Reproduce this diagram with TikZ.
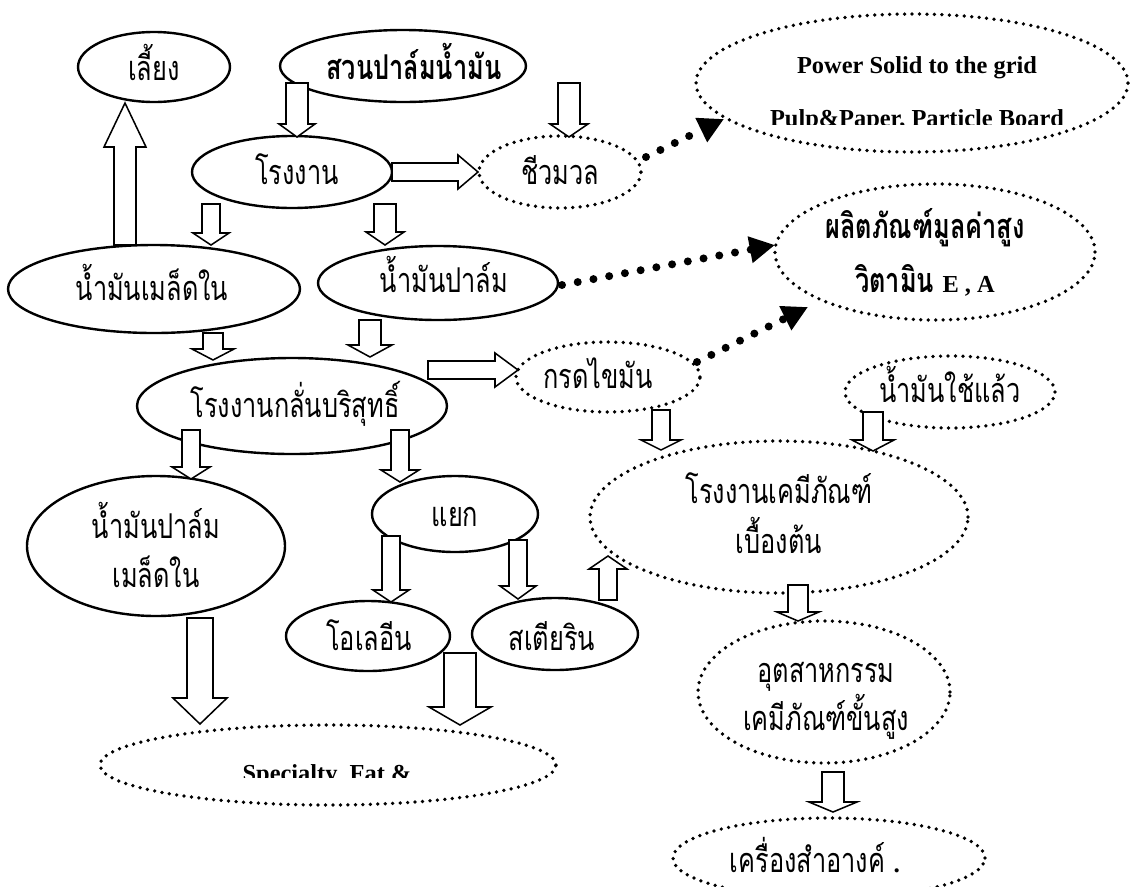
\documentclass[tikz,border=0pt]{standalone}
\usepackage{graphicx}
\usepackage{fontspec}
\setmainfont{Liberation Serif}
\newfontfamily\thai[Script=Thai]{Loma}
\usetikzlibrary{shapes.geometric,arrows.meta}

\newcommand\tht[1]{\scalebox{1}[1.35]{#1}}
\tikzset{
  x=0.75pt, y=-0.75pt,
  solidell/.style={draw, ellipse, line width=1.8pt, fill=white, inner sep=0pt},
  dotell/.style={draw, ellipse, line width=2.8pt, dash pattern=on 0pt off 5.6pt, line cap=round, fill=white, inner sep=0pt},
  barrow/.style={draw, fill=white, line width=1.15pt, line join=miter},
  bigdots/.style={line width=6pt, dash pattern=on 0pt off 12pt, line cap=round, -{Triangle[length=19pt,width=19pt]}},
  th/.style={font=\thai\fontsize{19}{23}\selectfont, inner sep=0pt, anchor=base},
  thb/.style={font=\thai\bfseries\fontsize{19}{23}\selectfont, inner sep=0pt, anchor=base},
  en/.style={font=\bfseries\fontsize{18.3}{22}\selectfont, inner sep=0pt, anchor=base},
}
% ellipse node: name, x, y, rx, ry, style
\newcommand\myell[6]{\node[#6, minimum width={#4*1.5pt}, minimum height={#5*1.5pt}] (#1) at (#2,#3) {};}
% vertical block arrow: cx, ystart, ybase, ytip, half shaft, half head
\newcommand\barrowv[6]{\draw[barrow] ({#1-#5},#2) -- ({#1+#5},#2) -- ({#1+#5},#3) -- ({#1+#6},#3) -- (#1,#4) -- ({#1-#6},#3) -- ({#1-#5},#3) -- cycle;}
% horizontal block arrow: cy, xstart, xbase, xtip, half shaft, half head
\newcommand\barrowh[6]{\draw[barrow] (#2,{#1-#5}) -- (#2,{#1+#5}) -- (#3,{#1+#5}) -- (#3,{#1+#6}) -- (#4,#1) -- (#3,{#1-#6}) -- (#3,{#1-#5}) -- cycle;}

\begin{document}
\begin{tikzpicture}
\fill[white] (0,0) rectangle (1131,886);
\useasboundingbox (0,0) rectangle (1131,886);

% ellipses
\myell{liang}{154}{67}{76}{35}{solidell}
\myell{suan}{403}{66}{123}{36}{solidell}
\myell{rong}{292}{172}{100}{36}{solidell}
\myell{bio}{560}{172}{81}{36}{dotell}
\myell{power}{912}{83}{216}{69}{dotell}
\myell{kernel}{154}{289}{146}{44}{solidell}
\myell{palm}{438}{283}{120}{37}{solidell}
\myell{value}{935}{252}{160}{68}{dotell}
\myell{refine}{292}{406}{155}{48}{solidell}
\myell{acid}{608}{377}{92}{35}{dotell}
\myell{used}{950}{392}{105}{36}{dotell}
\myell{kpalm}{156}{546}{129}{70}{solidell}
\myell{yaek}{455}{514}{83}{38}{solidell}
\myell{chem}{779}{517}{189}{76}{dotell}
\myell{olein}{368}{636}{82}{35}{solidell}
\myell{stear}{555}{634}{83}{36}{solidell}
\myell{adv}{824}{692}{126}{71}{dotell}
\myell{spec}{328}{765}{228}{40}{dotell}
\myell{cosm}{829}{858}{156}{40}{dotell}

% texts
\node[th] (t-liang) at (154,80) {\tht{เลี้ยง}};
\node[thb] (t-suan) at (414,79) {\tht{สวนปาล์มน้ำมัน}};
\node[th] (t-rong) at (297,184) {\tht{โรงงาน}};
\node[th] (t-bio) at (560,184) {\tht{ชีวมวล}};
\node[en] (t-power1) at (917,73) {Power Solid to the grid};
\begin{scope}
\clip (700,95) rectangle (1130,124);
\node[en] (t-power2) at (917,126) {Pulp\&Paper, Particle Board};
\end{scope}
\node[th] (t-kernel) at (152,300) {\tht{น้ำมันเมล็ดใน}};
\node[th] (t-palm) at (444,292) {\tht{น้ำมันปาล์ม}};
\node[thb] (t-value1) at (925,238) {\tht{ผลิตภัณฑ์มูลค่าสูง}};
\node[thb] (t-value2) at (925,292) {\tht{วิตามิน} {\rmfamily\fontsize{18.3}{22}\selectfont E , A}};
\node[th] (t-refine) at (295,417) {\tht{โรงงานกลั่นบริสุทธิ์}};
\node[th] (t-acid) at (598,388) {\tht{กรดไขมัน}};
\node[th] (t-used) at (950,402) {\tht{น้ำมันใช้แล้ว}};
\node[th] (t-kpalm1) at (156,538) {\tht{น้ำมันปาล์ม}};
\node[th] (t-kpalm2) at (156,587) {\tht{เมล็ดใน}};
\node[th] (t-yaek) at (455,526) {\tht{แยก}};
\node[th] (t-chem1) at (779,503) {\tht{โรงงานเคมีภัณฑ์}};
\node[th] (t-chem2) at (779,553) {\tht{เบื้องต้น}};
\node[th] (t-olein) at (369,650) {\tht{โอเลอีน}};
\node[th] (t-stear) at (552,650) {\tht{สเตียริน}};
\node[th] (t-adv1) at (826,682) {\tht{อุตสาหกรรม}};
\node[th] (t-adv2) at (826,730) {\tht{เคมีภัณฑ์ขั้นสูง}};
\begin{scope}
\clip (200,740) rectangle (460,777);
\node[en] (t-spec) at (327,781) {Specialty\ \ Fat \&};
\end{scope}
\node[th] (t-cosm) at (815,872) {\tht{เครื่องสำอางค์} {\rmfamily\bfseries .}};

% block arrows
\barrowv{297}{83}{124}{137}{11}{18}
\barrowv{569}{83}{124}{137}{11}{19}
\barrowh{172}{392}{458}{478}{9}{17}
\barrowv{125}{245}{147}{103}{11}{21}
\barrowv{211}{204}{233}{245}{9}{18}
\barrowv{385}{204}{232}{245}{11}{19}
\barrowv{213}{333}{349}{360}{10}{21}
\barrowv{370}{320}{345}{357}{11}{22}
\barrowh{370}{428}{495}{518}{9}{17}
\barrowv{191}{430}{467}{479}{9}{19}
\barrowv{400}{430}{470}{482}{9}{19}
\barrowv{391}{536}{590}{602}{9}{18}
\barrowv{518}{540}{586}{599}{9}{18}
\barrowv{200}{618}{698}{724}{13}{27}
\barrowv{460}{653}{707}{725}{16}{31}
\barrowv{608}{600}{569}{556}{9}{19}
\barrowv{661}{410}{440}{450}{9}{20}
\barrowv{873}{412}{440}{451}{10}{21}
\barrowv{798}{585}{612}{621}{10}{21}
\barrowv{833}{772}{802}{812}{11}{24}

% dotted connectors
\coordinate (d1s) at (646,157);
\coordinate (d1e) at (724,119);
\coordinate (d2s) at (562,285);
\coordinate (d2e) at (775,245);
\coordinate (d3s) at (697,362);
\coordinate (d3e) at (808,307);
\draw[bigdots] (d1s) -- (d1e);
\draw[bigdots] (d2s) -- (d2e);
\draw[bigdots] (d3s) -- (d3e);
\end{tikzpicture}
\end{document}
